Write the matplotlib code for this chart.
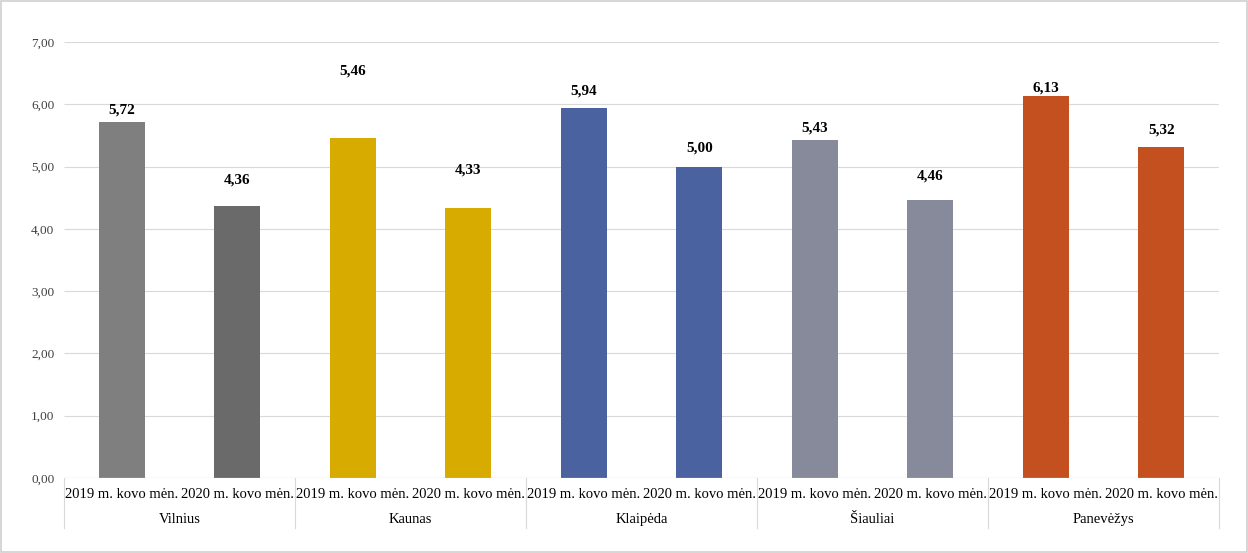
"""Vilnius/Kaunas/... March 2019 vs 2020 grouped bar chart."""

import matplotlib
matplotlib.use("Agg")
import matplotlib.pyplot as plt
from matplotlib.patches import Rectangle

cities = ["Vilnius", "Kaunas", "Klaipėda", "Šiauliai", "Panevėžys"]
periods = ["2019 m. kovo mėn.", "2020 m. kovo mėn."]
values_2019 = [5.72, 5.46, 5.94, 5.43, 6.13]
values_2020 = [4.36, 4.33, 5.00, 4.46, 5.32]
colors_2019 = ["#7f7f7f", "#d8ab00", "#4a62a0", "#868a9b", "#c5501f"]
colors_2020 = ["#6a6a6a", "#d8ab00", "#4a62a0", "#868a9b", "#c5501f"]
# label heights as placed in the original (data units)
label_y_2019 = [5.91, 6.53, 6.21, 5.62, 6.26]
label_y_2020 = [4.78, 4.94, 5.30, 4.85, 5.59]
yticks = [0, 1, 2, 3, 4, 5, 6, 7]

plt.rcParams.update({"font.family": ["Liberation Serif", "DejaVu Serif"]})

fig = plt.figure(figsize=(12.48, 5.53), dpi=100)
fig.patches.append(Rectangle((0.001, 0.002), 0.998, 0.996, transform=fig.transFigure,
                             fill=False, edgecolor="#d0d0d0", linewidth=1.2))
ax = fig.add_axes([64 / 1248, 75 / 553, 1155 / 1248, 436 / 553])

n = len(cities)
x19 = [2 * i + 0.5 for i in range(n)]
x20 = [2 * i + 1.5 for i in range(n)]
ax.bar(x19, values_2019, width=0.4, color=colors_2019, zorder=3)
ax.bar(x20, values_2020, width=0.4, color=colors_2020, zorder=3)

for xs, vals, ly in [(x19, values_2019, label_y_2019), (x20, values_2020, label_y_2020)]:
    for x, v, y in zip(xs, vals, ly):
        ax.text(x, y, f"{v:.2f}".replace(".", ","), ha="center", va="center",
                fontsize=11, fontweight="bold", color="#000000")

ax.hlines(yticks[1:], 0, 2 * n, color="#d9d9d9", linewidth=0.8, zorder=0)
ax.hlines([0], 0, 2 * n, color="#d0d0d0", linewidth=0.9, zorder=4)

ax.set_yticks(yticks)
ax.set_yticklabels([f"{t:.2f}".replace(".", ",") for t in yticks], fontsize=9.5, color="#404040")
ax.tick_params(axis="y", length=0, pad=7)
ax.set_xticks([])
for side in ["left", "right", "top", "bottom"]:
    ax.spines[side].set_visible(False)

# category labels and group labels
for i in range(n):
    ax.text(x19[i], -0.27, periods[0], ha="center", va="center", fontsize=10.5, clip_on=False)
    ax.text(x20[i], -0.27, periods[1], ha="center", va="center", fontsize=10.5, clip_on=False)
    ax.text(2 * i + 1, -0.66, cities[i], ha="center", va="center", fontsize=10.5, clip_on=False)
for i in range(n + 1):
    ax.plot([2 * i, 2 * i], [0, -0.8], color="#d9d9d9", linewidth=0.8,
            clip_on=False, zorder=1)

ax.set_xlim(0, 2 * n)
ax.set_ylim(0, 7)

fig.savefig("out.png", dpi=100)
